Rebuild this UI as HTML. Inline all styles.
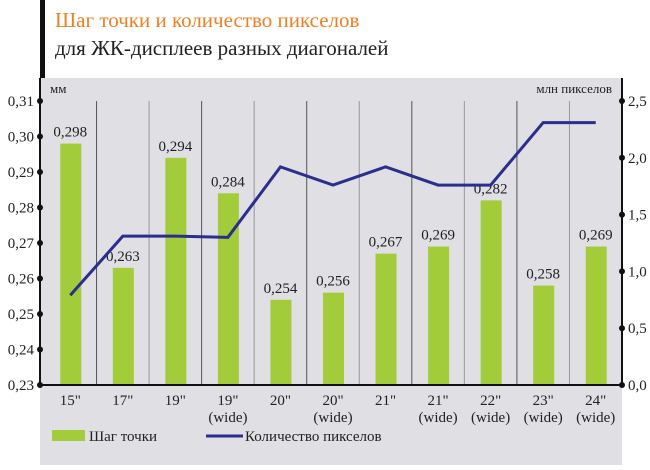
<!DOCTYPE html>
<html><head><meta charset="utf-8"><style>
body{margin:0;background:#fff;width:650px;height:465px;overflow:hidden;font-family:"Liberation Serif",serif}
</style></head><body>
<svg width="650" height="465" xmlns="http://www.w3.org/2000/svg" font-family="Liberation Serif, serif">
<rect x="40" y="0" width="5" height="80" fill="#111"/>
<text x="55" y="27" font-size="21" fill="#f07f22">Шаг точки и количество пикселов</text>
<text x="55" y="55" font-size="21" fill="#222">для ЖК-дисплеев разных диагоналей</text>
<rect x="40" y="78" width="582" height="387" fill="#dfdfe4"/>
<text x="50" y="93" font-size="13" fill="#222">мм</text>
<text x="612" y="93" font-size="13" fill="#222" text-anchor="end">млн пикселов</text>
<g id="g"></g>
<rect x="52" y="430" width="33" height="11" fill="#a2cc3a"/>
<text x="89" y="441" font-size="15" fill="#222">Шаг точки</text>
<line x1="206" y1="436" x2="243" y2="436" stroke="#2a2e8c" stroke-width="3"/>
<text x="245" y="441" font-size="15" fill="#222">Количество пикселов</text>
</svg>
<script>
const categories=['15"','17"','19"','19"|(wide)','20"','20"|(wide)','21"','21"|(wide)','22"|(wide)','23"|(wide)','24"|(wide)'];
const pitch=[0.298,0.263,0.294,0.284,0.254,0.256,0.267,0.269,0.282,0.258,0.269];
const pixels=[0.79,1.31,1.31,1.30,1.92,1.76,1.92,1.76,1.76,2.31,2.31];
const leftTicks=[0.23,0.24,0.25,0.26,0.27,0.28,0.29,0.30,0.31];
const rightTicks=[0,0.5,1,1.5,2,2.5];
const NS="http://www.w3.org/2000/svg",g=document.getElementById('g');
const yTop=101,bot=385,L=44,R=622,cw=(R-L)/categories.length;
const yL=v=>bot-(v-0.23)/(0.31-0.23)*(bot-yTop);
const yR=v=>bot-v/2.5*(bot-yTop);
const xC=i=>L+cw*(i+0.5);
function mk(t,a){const e=document.createElementNS(NS,t);for(const k in a)e.setAttribute(k,a[k]);g.appendChild(e);return e;}
for(let i=1;i<categories.length;i++){
const s=mk('line',{x1:L+cw*i,x2:L+cw*i,y1:yTop,y2:bot,stroke:i%2?'#555':'#999','stroke-width':1});

}
pitch.forEach((v,i)=>{
const b=mk('rect',{x:xC(i)-10,y:yL(v),width:21,height:bot-yL(v),fill:'#a2cc3a'});


const t=mk('text',{x:xC(i),y:yL(v)-7,'font-size':15,'text-anchor':'middle',fill:'#222'});


t.textContent=v.toFixed(3).replace('.',',');
const parts=categories[i].split('|');
parts.forEach((p,j)=>{const c=mk('text',{x:xC(i),y:405+j*17,'font-size':15,'text-anchor':'middle',fill:'#222'});


c.textContent=p;});
});
const pl=mk('polyline',{points:pixels.map((v,i)=>xC(i)+','+yR(v)).join(' '),fill:'none',stroke:'#2a2e8c','stroke-width':3});


let a1=mk('line',{x1:40,x2:40,y1:78,y2:bot,stroke:'#111','stroke-width':2});


let a2=mk('line',{x1:622,x2:622,y1:78,y2:bot,stroke:'#111','stroke-width':2});


let a3=mk('line',{x1:40,x2:622,y1:bot,y2:bot,stroke:'#111','stroke-width':2});


leftTicks.forEach(v=>{const d=mk('circle',{cx:40,cy:yL(v),r:3,fill:'#111'});


const t=mk('text',{x:34,y:yL(v)+5,'font-size':15,'text-anchor':'end',fill:'#222'});


t.textContent=v.toFixed(2).replace('.',',');});
rightTicks.forEach(v=>{const d=mk('circle',{cx:622,cy:yR(v),r:3,fill:'#111'});


const t=mk('text',{x:628,y:yR(v)+5,'font-size':15,fill:'#222'});


t.textContent=v.toFixed(1).replace('.',',');});
</script>
</body></html>
